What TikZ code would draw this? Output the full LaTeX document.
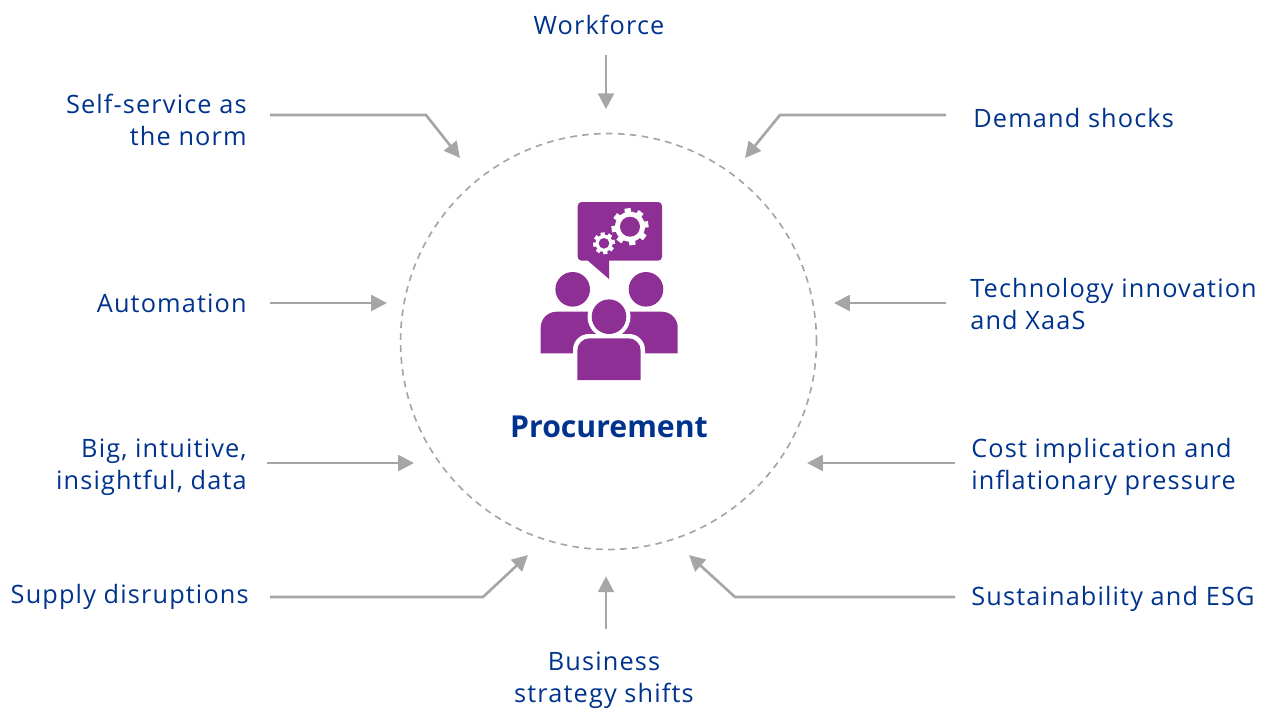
\documentclass[tikz,border=0pt]{standalone}
\usepackage{fontspec}
\setmainfont[LetterSpace=4.5]{Open Sans}
\newfontfamily\procfont{Open Sans}
\usetikzlibrary{arrows.meta}
\definecolor{navy}{HTML}{00338D}
\definecolor{plum}{HTML}{8E2F96}
\definecolor{ash}{HTML}{A6A6A6}
\tikzset{
  flow/.style = {draw=ash, line width=1.5pt, -{Triangle[length=9pt, width=9pt]}},
  label/.style = {inner sep=0pt, text=navy, font=\fontsize{14.4}{18.2}\selectfont},
  cog/.style = {fill=white, draw=none}
}
\begin{document}
\begin{tikzpicture}[x=0.02cm, y=-0.02cm]
\useasboundingbox (0,0) rectangle (1262,708);
\node[circle, draw=ash, line width=0.95pt, dash pattern=on 3.8pt off 3pt, minimum size=8.32cm, inner sep=0pt] (ring) at (608.5,341.5) {};
\node[inner sep=0pt, text=navy, font=\procfont\fontsize{17.2}{22}\selectfont\bfseries] (proc) at (609,427) {Procurement};
% labels on the left
\begin{scope}[every node/.style = {label, anchor=east, align=right}]
\node (self) at (247,120) {Self-service as\\the norm};
\node (auto) at (247,303) {Automation};
\node (big) at (247,467) {Big, intuitive,\\insightful, data};
\node (supply) at (249,597) {Supply disruptions};
\end{scope}
% labels on the right
\begin{scope}[every node/.style = {label, anchor=west, align=left}]
\node (demand) at (973,118) {Demand shocks};
\node (tech) at (970,304) {Technology innovation\\and XaaS};
\node (cost) at (971,467) {Cost implication and\\inflationary pressure};
\node (sust) at (971,599) {Sustainability and ESG};
\end{scope}
\node[label] (work) at (599,25) {Workforce};
\node[label, align=center] (biz) at (604,680) {Business\\strategy shifts};
% tips of the arrows
\coordinate (tself) at (460,158);
\coordinate (tdemand) at (745,158);
\coordinate (tsupply) at (528,555);
\coordinate (tsust) at (689,555);
% arrows
\draw[flow] ([shift={(7,20)}]work.south) -- ++(0,54);
\draw[flow] ([shift={(23,-5)}]self.east) -- ++(156,0) -- (tself);
\draw[flow] ([shift={(-27,-3)}]demand.west) -- ++(-166,0) -- (tdemand);
\draw[flow] ([shift={(23,0)}]auto.east) -- ++(117,0);
\draw[flow] ([shift={(-24,-1)}]tech.west) -- ++(-112,0);
\draw[flow] ([shift={(20,-4)}]big.east) -- ++(147,0);
\draw[flow] ([shift={(-16,-4)}]cost.west) -- ++(-148,0);
\draw[flow] ([shift={(21,0)}]supply.east) -- ++(213,0) -- (tsupply);
\draw[flow] ([shift={(-16,-2)}]sust.west) -- ++(-220,0) -- (tsust);
\draw[flow] ([shift={(2,-22)}]biz.north) -- ++(0,-53);
% speech bubble
\fill[plum, rounded corners=2.2pt] (577.7,202) rectangle (662,260.7);
\fill[plum] (588,258) -- (588,260.7) -- (609,279) -- (609,258) -- cycle;
% gears
\foreach \cx/\cy/\rout/\rmid/\rin/\tw in {630/226.7/18.5/15/10/3.1, 604/243.3/10.9/8.6/5.3/2.1} {
  \foreach \a in {0,45,...,315} {
    \fill[cog, shift={(\cx,\cy)}, rotate=\a+8] (-\tw,0) rectangle (\tw,\rout);
  }
  \fill[cog] (\cx,\cy) circle[radius=\rmid];
  \fill[plum] (\cx,\cy) circle[radius=\rin];
}
% people
\fill[plum] (572.7,289.3) circle[radius=17.3];
\fill[plum] (646,289.3) circle[radius=17.3];
\fill[plum] (540.7,353.3) [rounded corners=9pt] -- (540.7,311.7) -- (620,311.7) [sharp corners] -- (620,353.3) -- cycle;
\fill[plum] (677.7,353.3) [rounded corners=9pt] -- (677.7,311.7) -- (600,311.7) [sharp corners] -- (600,353.3) -- cycle;
\fill[white] (609,316.7) circle[radius=21.5];
\fill[plum] (609,316.7) circle[radius=17.3];
\fill[white] (573,382) [rounded corners=9pt] -- (573,334) -- (645,334) [sharp corners] -- (645,382) -- cycle;
\fill[plum] (577.3,380) [rounded corners=7pt] -- (577.3,338.3) -- (640.7,338.3) [sharp corners] -- (640.7,380) -- cycle;
\end{tikzpicture}
\end{document}
